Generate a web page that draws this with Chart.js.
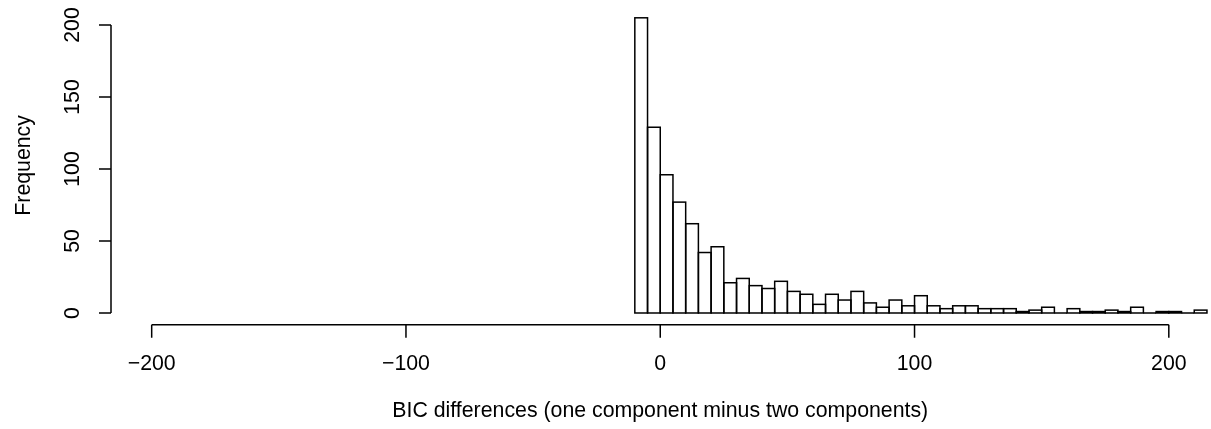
<!DOCTYPE html>
<html>
<head>
<meta charset="utf-8">
<script src="https://cdn.jsdelivr.net/npm/chart.js@4/dist/chart.umd.min.js"></script>
<style>
  html, body { margin: 0; padding: 0; background: #fff; }
  #wrap { width: 1211px; height: 429px; }
</style>
</head>
<body>
<div id="wrap"><canvas id="hist" width="1211" height="429"></canvas></div>
<script>
// histogram bins (left edges, width 5) and their counts
const binWidth = 5;
const binStarts = [-10, -5, 0, 5, 10, 15, 20, 25, 30, 35, 40, 45, 50, 55, 60, 65, 70, 75, 80, 85,
  90, 95, 100, 105, 110, 115, 120, 125, 130, 135, 140, 145, 150, 155, 160, 165, 170, 175, 180, 185,
  190, 195, 200, 205, 210];
const counts = [205, 129, 96, 77, 62, 42, 46, 21, 24, 19, 17, 22, 15, 13, 6, 13, 9, 15, 7, 4,
  9, 5, 12, 5, 3, 5, 5, 3, 3, 3, 1, 2, 4, 0, 3, 1, 1, 2, 1, 4,
  0, 1, 1, 0, 2];
const xTicks = [-200, -100, 0, 100, 200];
const yTicks = [0, 50, 100, 150, 200];
const xTitle = 'BIC differences (one component minus two components)';
const yTitle = 'Frequency';

const FONT = '21.3px "Liberation Sans", Arial, Helvetica, sans-serif';

const points = binStarts.map((s, i) => ({ x: s + binWidth / 2, y: counts[i] }));

// outlines each bar like R's rect() and draws the axes
const rAxes = {
  id: 'rAxes',
  afterDatasetsDraw(chart) {
    const ctx = chart.ctx;
    const meta = chart.getDatasetMeta(0);
    ctx.save();
    ctx.strokeStyle = '#000';
    ctx.lineWidth = 1.5;
    meta.data.forEach(el => {
      const p = el.getProps(['x', 'y', 'base', 'width'], true);
      ctx.strokeRect(p.x - p.width / 2, p.y, p.width, p.base - p.y);
    });
    ctx.restore();
  },
  afterDraw(chart) {
    const ctx = chart.ctx;
    const xs = chart.scales.x, ys = chart.scales.y;
    const area = chart.chartArea;
    ctx.save();
    ctx.strokeStyle = '#000';
    ctx.fillStyle = '#000';
    ctx.lineWidth = 1.5;
    ctx.font = FONT;

    // x axis
    const xb = area.bottom;
    ctx.beginPath();
    ctx.moveTo(xs.getPixelForValue(xTicks[0]), xb);
    ctx.lineTo(xs.getPixelForValue(xTicks[xTicks.length - 1]), xb);
    xTicks.forEach(t => {
      const px = xs.getPixelForValue(t);
      ctx.moveTo(px, xb);
      ctx.lineTo(px, xb + 13);
    });
    ctx.stroke();
    ctx.textAlign = 'center';
    ctx.textBaseline = 'middle';
    xTicks.forEach(t => {
      ctx.fillText(String(t).replace('-', '\u2212'), xs.getPixelForValue(t), xb + 39);
    });
    ctx.fillText(xTitle, (area.left + area.right) / 2, xb + 86);

    // y axis
    const yl = area.left;
    ctx.beginPath();
    ctx.moveTo(yl, ys.getPixelForValue(yTicks[0]));
    ctx.lineTo(yl, ys.getPixelForValue(yTicks[yTicks.length - 1]));
    yTicks.forEach(t => {
      const py = ys.getPixelForValue(t);
      ctx.moveTo(yl, py);
      ctx.lineTo(yl - 12, py);
    });
    ctx.stroke();
    yTicks.forEach(t => {
      ctx.save();
      ctx.translate(yl - 38, ys.getPixelForValue(t));
      ctx.rotate(-Math.PI / 2);
      ctx.fillText(String(t), 0, 0);
      ctx.restore();
    });
    ctx.save();
    ctx.translate(24, (area.top + area.bottom) / 2);
    ctx.rotate(-Math.PI / 2);
    ctx.fillText(yTitle, 0, 0);
    ctx.restore();
    ctx.restore();
  }
};

new Chart(document.getElementById('hist').getContext('2d'), {
  type: 'bar',
  data: {
    datasets: [{
      label: yTitle,
      data: points,
      backgroundColor: '#fff',
      borderWidth: 0,
      barPercentage: 1,
      categoryPercentage: 1,
      grouped: false
    }]
  },
  options: {
    responsive: false,
    animation: false,
    layout: { padding: { left: 111, right: 1.5, top: 6, bottom: 104.2 } },
    scales: {
      x: { type: 'linear', min: -216, max: 216, offset: false, display: false },
      y: { type: 'linear', min: -8.2, max: 213.2, display: false }
    },
    plugins: {
      legend: { display: false },
      tooltip: { enabled: false }
    }
  },
  plugins: [rAxes]
});
</script>
</body>
</html>
